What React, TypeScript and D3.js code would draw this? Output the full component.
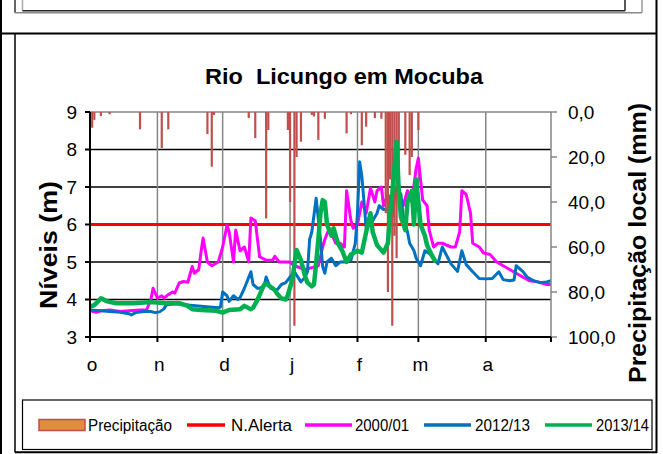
import React from 'react';
import * as d3 from 'd3';

// ---- data (days counted from 1 October) ----
const monthTicks = [0, 31, 61, 92, 123, 151, 182, 212];
const monthLabels = ['o', 'n', 'd', 'j', 'f', 'm', 'a'];
const levelTicks = [3, 4, 5, 6, 7, 8, 9];
const precipTicks = [0, 20, 40, 60, 80, 100];
const alertLevel = 6;

// daily local precipitation (mm)
const precipitation: [number, number][] = [
  [1, 7], [2, 3.5], [5, 1.8], [9, 1.0], [23, 7.7], [33, 16], [36, 7.7],
  [54, 9.8], [56, 24.3], [57, 1.3], [73, 2.7], [76, 11.6], [81, 47.3], [82, 8],
  [91, 8], [92, 40], [94, 95], [95, 20], [97, 13.2], [102, 1.3], [103, 2],
  [105, 12.4], [108, 3], [118, 9.5], [120, 1], [125, 14.8], [127, 6.5],
  [131, 2.7], [134, 3], [136, 45], [137, 80], [138, 30], [139, 95], [140, 55],
  [141, 65], [142, 35], [145, 19], [147, 28], [148, 20], [151, 8],
];

// water levels (m)
const level2000: [number, number][] = [
  [0, 3.7], [3, 3.66], [5, 3.7], [9, 3.72], [14, 3.68], [18, 3.7], [23, 3.72], [26, 3.72],
  [28, 4.0], [29, 4.3], [31, 4.04], [33, 4.1], [34, 4.04], [36, 4.13], [38, 4.2], [39, 4.17],
  [41, 4.44], [43, 4.48], [45, 4.46], [47, 4.88], [48, 4.7], [50, 4.8], [51, 5.24], [52, 5.64],
  [54, 5.0], [56, 4.9], [59, 5.0], [61, 5.4], [63, 5.98], [64, 5.8], [66, 5.0], [67, 5.85],
  [69, 5.3], [71, 5.4], [73, 5.0], [74, 6.17], [76, 6.1], [78, 5.14], [81, 5.05],
  [84, 5.05], [85, 5.15], [87, 5.0], [92, 5.0], [94, 4.9], [99, 4.8], [102, 4.85],
  [105, 4.9], [107, 5.4], [108, 5.6], [110, 5.9], [113, 5.5], [115, 5.5], [117, 5.4],
  [118, 6.9], [120, 6.1], [121, 5.9], [123, 6.0], [125, 6.6], [127, 6.3], [129, 6.97],
  [131, 6.6], [132, 6.9], [134, 7.0], [135, 6.5], [137, 6.8], [139, 6.5], [141, 7.0],
  [143, 6.6], [144, 6.5], [146, 6.9], [148, 6.6], [150, 7.5], [151, 7.77], [152, 7.2],
  [153, 6.65], [155, 6.5], [156, 5.85], [158, 5.4], [160, 5.5], [162, 5.5], [166, 5.4],
  [168, 5.4], [170, 5.8], [171, 6.9], [173, 6.8], [175, 6.3], [176, 5.5], [179, 5.4],
  [181, 5.24], [184, 5.2], [187, 5.0], [190, 4.9], [193, 4.8], [196, 4.7], [199, 4.6],
  [202, 4.5], [206, 4.47], [210, 4.4], [212, 4.4],
];

const level2012: [number, number][] = [
  [0, 3.72], [5, 3.7], [9, 3.68], [14, 3.66], [18, 3.62], [19, 3.59], [21, 3.65],
  [25, 3.68], [28, 3.68], [30, 3.65], [32, 3.67], [34, 3.75], [35, 3.85], [38, 3.88],
  [41, 3.88], [46, 3.85], [51, 3.82], [55, 3.8], [59, 3.78], [60, 3.8], [61, 4.2],
  [63, 4.1], [64, 3.95], [66, 4.1], [68, 4.0], [69, 4.05], [71, 4.3], [74, 4.74],
  [75, 4.4], [77, 4.3], [78, 4.3], [80, 4.35], [81, 4.6], [83, 4.3], [86, 4.25],
  [88, 4.4], [90, 4.45], [92, 4.6], [94, 4.74], [97, 4.47], [99, 4.6], [100, 4.74],
  [101, 5.6], [102, 5.8], [104, 6.7], [106, 5.6], [107, 4.87], [108, 4.7], [109, 5.0],
  [111, 5.1], [113, 4.9], [115, 5.0], [117, 5.0], [120, 5.05], [122, 5.5], [123, 6.3],
  [124, 7.67], [125, 7.3], [126, 6.6], [127, 5.9], [130, 6.1], [132, 6.3], [133, 6.5],
  [135, 6.4], [137, 6.4], [139, 6.2], [140, 6.7], [142, 6.9], [143, 6.8], [144, 6.2],
  [146, 5.8], [147, 5.5], [149, 5.3], [150, 5.1], [152, 4.9], [154, 5.3], [156, 5.23],
  [160, 4.95], [162, 5.4], [166, 4.95], [169, 4.75], [171, 5.3], [173, 4.93], [176, 4.74],
  [179, 4.56], [182, 4.55], [185, 4.56], [188, 4.74], [190, 4.53], [193, 4.5], [195, 4.52],
  [196, 4.9], [199, 4.75], [201, 4.6], [204, 4.5], [207, 4.45], [210, 4.47], [212, 4.5],
];

const level2013: [number, number][] = [
  [0, 3.81], [2, 3.85], [5, 4.03], [8, 3.95], [12, 3.9], [20, 3.9], [28, 3.93],
  [35, 3.9], [41, 3.9], [45, 3.83], [47, 3.74], [51, 3.72], [58, 3.7], [61, 3.65],
  [64, 3.72], [69, 3.74], [71, 3.83], [74, 3.74], [75, 3.78], [77, 3.99], [80, 4.39],
  [81, 4.42], [84, 4.3], [85, 4.25], [86, 4.16], [88, 4.03], [90, 4.0], [91, 4.12],
  [93, 4.52], [95, 5.32], [97, 5.05], [99, 4.6], [100, 4.45], [102, 4.35], [103, 4.4],
  [104, 4.96], [105, 5.6], [106, 6.3], [107, 6.65], [108, 6.6], [109, 6.0], [111, 5.7],
  [112, 5.9], [114, 5.5], [116, 5.3], [118, 5.0], [120, 5.2], [123, 5.3], [125, 5.25],
  [127, 5.8], [129, 6.3], [130, 5.8], [132, 5.45], [135, 5.25], [137, 5.5], [138, 6.3],
  [139, 6.83], [141, 8.2], [142, 6.9], [143, 6.2], [145, 5.85], [146, 6.6], [148, 6.9],
  [149, 6.0], [150, 7.2], [152, 6.0], [154, 5.7], [155, 5.45], [157, 5.2], [159, 5.0],
];

const seriesColors = { precip: '#C0504D', alert: '#FF0000', s2000: '#FF00FF', s2012: '#0070C0', s2013: '#00B050' };

export default function App() {
  const x = d3.scaleLinear().domain([0, 212]).range([90, 551]);
  const yL = d3.scaleLinear().domain([3, 9]).range([337, 112]);
  const yP = d3.scaleLinear().domain([0, 100]).range([112, 337]);
  const line = d3.line<[number, number]>().x(d => x(d[0])).y(d => yL(d[1]));
  const fmtP = (v: number) => d3.format('.1f')(v).replace('.', ',');
  const font = "'Liberation Sans', Arial, sans-serif";

  const legend = [
    { kind: 'rect', label: 'Precipitação', color: seriesColors.precip, x0: 39, x1: 85, tx: 88, tw: 84 },
    { kind: 'line', label: 'N.Alerta', color: seriesColors.alert, x0: 187, x1: 225, tx: 231, tw: 61 },
    { kind: 'line', label: '2000/01', color: seriesColors.s2000, x0: 305, x1: 352, tx: 355, tw: 54 },
    { kind: 'line', label: '2012/13', color: seriesColors.s2012, x0: 424, x1: 471, tx: 475, tw: 55 },
    { kind: 'line', label: '2013/14', color: seriesColors.s2013, x0: 545, x1: 592, tx: 596, tw: 53 },
  ];
  const ly = 425;

  return (
    <svg width={663} height={454} style={{ position: 'absolute', left: 0, top: 0, background: '#fff' }} fontFamily={font}>
      <rect x={0} y={0} width={663} height={454} fill="#fff" />
      {/* remnant of previous frame at top */}
      <line x1={15} y1={0} x2={15} y2={12.8} stroke="#333" strokeWidth={1.5} />
      <line x1={15} y1={12.8} x2={642} y2={12.8} stroke="#888" strokeWidth={1.5} />
      <line x1={642} y1={0} x2={642} y2={12.8} stroke="#999" strokeWidth={1.5} />
      <line x1={22.5} y1={0} x2={22.5} y2={10.7} stroke="#aaa" strokeWidth={1.5} />
      <line x1={22.5} y1={10.7} x2={625} y2={10.7} stroke="#222" strokeWidth={1.5} />
      <line x1={625} y1={0} x2={625} y2={10.7} stroke="#222" strokeWidth={1.5} />
      {/* outer frame */}
      <line x1={1} y1={0} x2={1} y2={454} stroke="#000" strokeWidth={2} />
      <line x1={656.5} y1={0} x2={656.5} y2={453} stroke="#000" strokeWidth={2} />
      <line x1={0} y1={33.5} x2={657} y2={33.5} stroke="#000" strokeWidth={2} />
      {/* chart frame */}
      <line x1={15} y1={34} x2={15} y2={452.5} stroke="#000" strokeWidth={1.5} />
      <line x1={15} y1={452.3} x2={657} y2={452.3} stroke="#000" strokeWidth={2} />

      {/* title */}
      <text x={344} y={84} textAnchor="middle" fontSize={22} fontWeight="bold" style={{ whiteSpace: 'pre' }}
        textLength={278} lengthAdjust="spacingAndGlyphs">{'Rio  Licungo em Mocuba'}</text>

      {/* grid */}
      {levelTicks.slice(1, -1).map(t => (
        <line key={'h' + t} x1={x(0)} x2={x(212)} y1={yL(t)} y2={yL(t)} stroke="#000" strokeWidth={1.5} />
      ))}
      <line x1={x(0)} x2={x(212)} y1={yL(9)} y2={yL(9)} stroke="#868686" strokeWidth={1.5} />
      {monthTicks.slice(1, -1).map(t => (
        <line key={'v' + t} x1={x(t)} x2={x(t)} y1={yL(9)} y2={yL(3)} stroke="#868686" strokeWidth={1.5} />
      ))}

      {/* alert level */}
      <line x1={x(0)} x2={x(212)} y1={yL(alertLevel)} y2={yL(alertLevel)} stroke={seriesColors.alert} strokeWidth={3} />

      {/* level series */}
      <path d={line(level2000) || ''} fill="none" stroke={seriesColors.s2000} strokeWidth={3} strokeLinejoin="round" />
      <path d={line(level2012) || ''} fill="none" stroke={seriesColors.s2012} strokeWidth={3} strokeLinejoin="round" />

      {/* precipitation bars hanging from top (secondary axis, reversed) */}
      {precipitation.map(([d, p]) => (
        <rect key={'p' + d} x={x(d) - 1.1} y={yP(0)} width={2.2} height={yP(p) - yP(0)} fill={seriesColors.precip} />
      ))}

      <path d={line(level2013) || ''} fill="none" stroke={seriesColors.s2013} strokeWidth={4.5} strokeLinejoin="round" />

      {/* axes */}
      <line x1={x(212)} x2={x(212)} y1={yL(9)} y2={yL(3)} stroke="#868686" strokeWidth={1.5} />
      {precipTicks.map(t => (
        <g key={'rp' + t}>
          <line x1={x(212)} x2={x(212) + 6} y1={yP(t)} y2={yP(t)} stroke="#868686" strokeWidth={1.5} />
          <text x={568} y={yP(t)} dy="0.36em" fontSize={19}>{fmtP(t)}</text>
        </g>
      ))}
      <line x1={x(0)} x2={x(0)} y1={yL(9)} y2={yL(3) + 1} stroke="#000" strokeWidth={2} />
      <line x1={x(0)} x2={x(212)} y1={yL(3)} y2={yL(3)} stroke="#000" strokeWidth={2} />
      {levelTicks.map(t => (
        <g key={'lt' + t}>
          <line x1={x(0) - 5} x2={x(0)} y1={yL(t)} y2={yL(t)} stroke="#000" strokeWidth={2} />
          <text x={77} y={yL(t)} dy="0.36em" fontSize={19} textAnchor="end">{t}</text>
        </g>
      ))}
      {monthTicks.map(t => (
        <line key={'mt' + t} x1={x(t)} x2={x(t)} y1={yL(3)} y2={yL(3) + 5} stroke="#000" strokeWidth={2} />
      ))}
      {monthLabels.map((m, i) => (
        <text key={'ml' + i} x={x(monthTicks[i]) + 2} y={371} fontSize={19} textAnchor="middle">{m}</text>
      ))}

      {/* axis titles */}
      <text transform="translate(57,245) rotate(-90)" textAnchor="middle" fontSize={24} fontWeight="bold"
        textLength={128} lengthAdjust="spacingAndGlyphs">Níveis (m)</text>
      <text transform="translate(646,243) rotate(-90)" textAnchor="middle" fontSize={24} fontWeight="bold"
        textLength={280} lengthAdjust="spacingAndGlyphs">Precipitação local (mm)</text>

      {/* legend */}
      <rect x={22.5} y={400} width={629.5} height={49.5} fill="none" stroke="#000" strokeWidth={1.2} />
      {legend.map(it => (
        <g key={it.label}>
          {it.kind === 'rect'
            ? <rect x={it.x0} y={ly - 5.5} width={it.x1 - it.x0} height={11} fill="#E38B3F" stroke={it.color} strokeWidth={1.5} />
            : <line x1={it.x0} x2={it.x1} y1={ly} y2={ly} stroke={it.color} strokeWidth={3.5} />}
          <text x={it.tx} y={ly} dy="0.36em" fontSize={16} textLength={it.tw} lengthAdjust="spacingAndGlyphs">{it.label}</text>
        </g>
      ))}
    </svg>
  );
}
